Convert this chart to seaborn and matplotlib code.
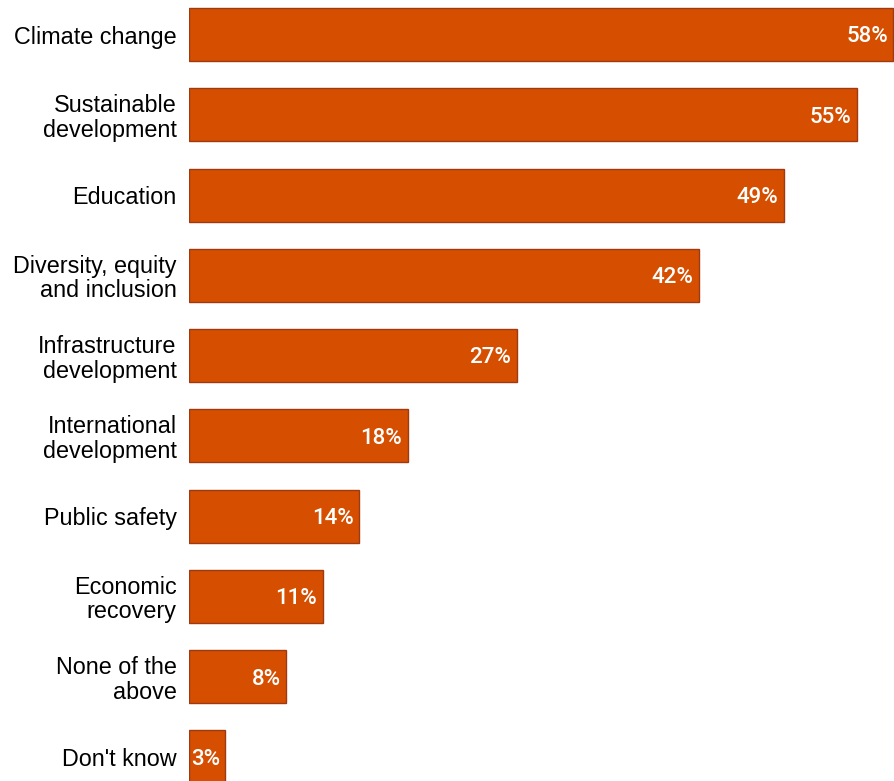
import matplotlib
matplotlib.use("Agg")
import matplotlib.pyplot as plt
import seaborn as sns
import pandas as pd

categories = ["Climate change", "Sustainable\ndevelopment", "Education",
              "Diversity, equity\nand inclusion", "Infrastructure\ndevelopment",
              "International\ndevelopment", "Public safety", "Economic\nrecovery",
              "None of the\nabove", "Don't know"]
values = [58, 55, 49, 42, 27, 18, 14, 11, 8, 3]

df = pd.DataFrame({"category": categories, "value": values})

sns.set_style("white")
fig = plt.figure(figsize=(8.95, 7.81), dpi=100)
ax = fig.add_axes([0.2112, 0, 0.789, 1])

sns.barplot(data=df, x="value", y="category", color="#D64F00", saturation=1,
            width=0.66, edgecolor="#9E3A12", linewidth=1, ax=ax)

for i, v in enumerate(values):
    ax.text(v - 0.45, i + 0.03, f"{v}%", ha="right", va="center", color="white",
            fontsize=16, fontweight="medium", family=["Roboto", "DejaVu Sans"])

ax.set_xlim(0, 58.15)
ax.set_ylim(9.30, -0.43)
ax.set_xlabel("")
ax.set_ylabel("")
ax.set_xticks([])
ax.tick_params(axis="y", length=0, pad=9)
for lab in ax.get_yticklabels():
    lab.set_fontsize(16.8)
    lab.set_color("black")
    lab.set_family(["Liberation Sans", "DejaVu Sans"])
    lab.set_linespacing(1.08)
    lab.set_ha("right")
sns.despine(ax=ax, left=True, bottom=True)

fig.savefig("out.png", dpi=100)
